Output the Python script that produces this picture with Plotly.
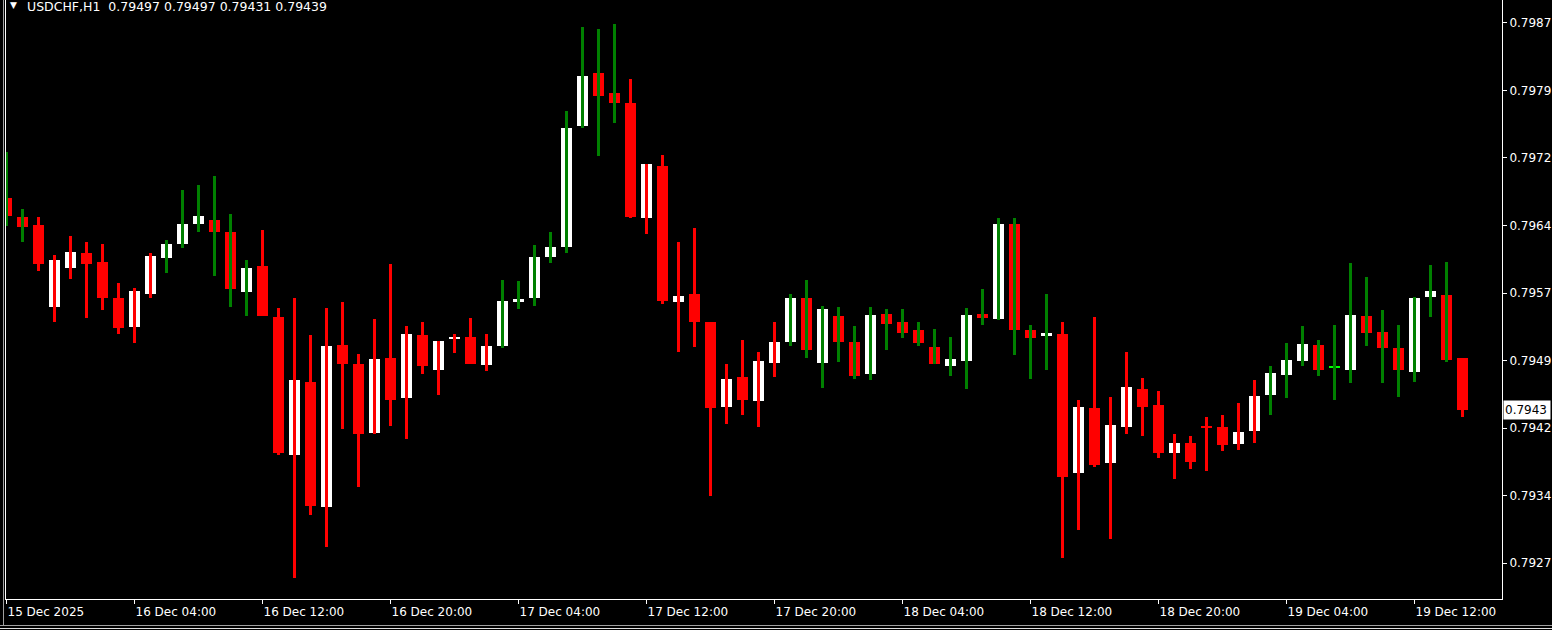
import plotly.graph_objects as go

# ---------------- data (USDCHF H1, 92 bars) ----------------
opens = [0.79675, 0.79653, 0.79644, 0.79553, 0.79597, 0.79613, 0.79604, 0.79564, 0.79531, 0.79568,
         0.79608, 0.79623, 0.79646, 0.79650, 0.79637, 0.79570, 0.79599, 0.79542, 0.79389, 0.79470,
         0.79331, 0.79511, 0.79490, 0.79414, 0.79497, 0.79452, 0.79522, 0.79484, 0.79519, 0.79520,
         0.79489, 0.79510, 0.79560, 0.79563, 0.79609, 0.79620, 0.79755, 0.79813, 0.79791, 0.79780,
         0.79652, 0.79710, 0.79559, 0.79568, 0.79537, 0.79442, 0.79476, 0.79449, 0.79491, 0.79515,
         0.79564, 0.79491, 0.79544, 0.79515, 0.79479, 0.79546, 0.79537, 0.79528, 0.79509, 0.79488,
         0.79494, 0.79546, 0.79540, 0.79646, 0.79528, 0.79521, 0.79524, 0.79369, 0.79441, 0.79380,
         0.79420, 0.79462, 0.79445, 0.79391, 0.79403, 0.79421, 0.79420, 0.79401, 0.79416, 0.79456,
         0.79478, 0.79494, 0.79511, 0.79486, 0.79483, 0.79544, 0.79526, 0.79508, 0.79481, 0.79565,
         0.79567, 0.79497]
highs = [0.79726, 0.79662, 0.79653, 0.79611, 0.79632, 0.79626, 0.79624, 0.79580, 0.79575, 0.79613,
         0.79628, 0.79683, 0.79689, 0.79699, 0.79657, 0.79606, 0.79639, 0.79552, 0.79564, 0.79522,
         0.79552, 0.79559, 0.79501, 0.79540, 0.79601, 0.79532, 0.79537, 0.79516, 0.79524, 0.79541,
         0.79523, 0.79583, 0.79582, 0.79622, 0.79637, 0.79771, 0.79864, 0.79862, 0.79868, 0.79807,
         0.79712, 0.79722, 0.79626, 0.79641, 0.79537, 0.79490, 0.79517, 0.79503, 0.79537, 0.79568,
         0.79583, 0.79555, 0.79554, 0.79532, 0.79554, 0.79551, 0.79551, 0.79537, 0.79529, 0.79520,
         0.79552, 0.79573, 0.79652, 0.79652, 0.79534, 0.79568, 0.79537, 0.79450, 0.79542, 0.79453,
         0.79504, 0.79475, 0.79460, 0.79412, 0.79410, 0.79431, 0.79433, 0.79447, 0.79472, 0.79488,
         0.79513, 0.79532, 0.79517, 0.79533, 0.79602, 0.79587, 0.79550, 0.79534, 0.79565, 0.79600,
         0.79604, 0.79497]
lows = [0.79643, 0.79626, 0.79594, 0.79537, 0.79585, 0.79541, 0.79550, 0.79523, 0.79513, 0.79563,
        0.79591, 0.79619, 0.79637, 0.79588, 0.79554, 0.79543, 0.79543, 0.79389, 0.79252, 0.79323,
        0.79287, 0.79418, 0.79354, 0.79412, 0.79421, 0.79407, 0.79479, 0.79456, 0.79502, 0.79490,
        0.79482, 0.79508, 0.79551, 0.79555, 0.79602, 0.79613, 0.79752, 0.79721, 0.79758, 0.79652,
        0.79635, 0.79557, 0.79503, 0.79509, 0.79344, 0.79424, 0.79433, 0.79420, 0.79476, 0.79510,
        0.79497, 0.79464, 0.79492, 0.79473, 0.79472, 0.79506, 0.79519, 0.79510, 0.79490, 0.79477,
        0.79462, 0.79533, 0.79539, 0.79500, 0.79473, 0.79483, 0.79275, 0.79306, 0.79376, 0.79296,
        0.79412, 0.79410, 0.79386, 0.79362, 0.79374, 0.79371, 0.79394, 0.79395, 0.79402, 0.79433,
        0.79452, 0.79488, 0.79477, 0.79450, 0.79469, 0.79510, 0.79469, 0.79454, 0.79470, 0.79542,
        0.79492, 0.79431]
closes = [0.79654, 0.79642, 0.79601, 0.79606, 0.79615, 0.79601, 0.79563, 0.79530, 0.79571, 0.79610,
          0.79623, 0.79646, 0.79655, 0.79637, 0.79573, 0.79597, 0.79543, 0.79391, 0.79472, 0.79332,
          0.79510, 0.79490, 0.79413, 0.79496, 0.79450, 0.79523, 0.79488, 0.79516, 0.79520, 0.79490,
          0.79510, 0.79560, 0.79562, 0.79609, 0.79620, 0.79752, 0.79810, 0.79788, 0.79780, 0.79653,
          0.79712, 0.79560, 0.79566, 0.79537, 0.79441, 0.79474, 0.79450, 0.79493, 0.79515, 0.79564,
          0.79506, 0.79551, 0.79515, 0.79477, 0.79545, 0.79535, 0.79525, 0.79513, 0.79490, 0.79496,
          0.79545, 0.79541, 0.79646, 0.79528, 0.79519, 0.79525, 0.79365, 0.79442, 0.79378, 0.79422,
          0.79465, 0.79442, 0.79391, 0.79402, 0.79381, 0.79420, 0.79400, 0.79415, 0.79455, 0.79480,
          0.79495, 0.79512, 0.79483, 0.79486, 0.79545, 0.79525, 0.79508, 0.79483, 0.79564, 0.79571,
          0.79495, 0.79439]
# wick colour flag per bar (G = green, R = red)
wick_flags = list("GGRRRRRRRRGGGGGG" "RRRRRRRRRRRRRRR" "GGGGGGGG" "RRRRRRRRRR"
                  "GGGGGGGGGGGGGGGGG" "RRRRRRRRRRRRR" "GGGGGGGGGGGG" "R")

x_tick_pos = [0, 8, 16, 24, 32, 40, 48, 56, 64, 72, 80, 88]
x_tick_labels = ["15 Dec 2025", "16 Dec 04:00", "16 Dec 12:00", "16 Dec 20:00", "17 Dec 04:00",
                 "17 Dec 12:00", "17 Dec 20:00", "18 Dec 04:00", "18 Dec 12:00", "18 Dec 20:00",
                 "19 Dec 04:00", "19 Dec 12:00"]
y_tick_vals = [0.79869, 0.79794, 0.79719, 0.79644, 0.79569, 0.79494, 0.79419, 0.79344, 0.79269]
y_tick_labels = ["0.7987", "0.7979", "0.7972", "0.7964", "0.7957", "0.7949", "0.7942", "0.7934", "0.7927"]
symbol = "USDCHF,H1"

# ---------------- styling ----------------
W, H = 1552, 630
ML, MR, MT, MB = 6, 50, 0, 31
PW, PH = W - ML - MR, H - MT - MB
FONT = "DejaVu Sans"
GREEN, RED, WHITE, LIME = "#008000", "#ff0000", "#ffffff", "#00ff00"

idx = list(range(len(opens)))
body_base = [min(o, c) for o, c in zip(opens, closes)]
body_h = [max(abs(c - o), 0.000012) for o, c in zip(opens, closes)]
body_col = [WHITE if c > o else (RED if c < o else LIME) for o, c in zip(opens, closes)]
wick_col = [GREEN if f == "G" else RED for f in wick_flags]

fig = go.Figure()
fig.add_trace(go.Bar(x=idx, base=body_base, y=body_h, width=11 / 16,
                     marker=dict(color=body_col, line=dict(width=0)), hoverinfo="skip"))
fig.add_trace(go.Bar(x=idx, base=lows, y=[h - l for h, l in zip(highs, lows)], width=3 / 16,
                     marker=dict(color=wick_col, line=dict(width=0)), hoverinfo="skip"))

fig.update_layout(
    width=W, height=H, margin=dict(l=ML, r=MR, t=MT, b=MB, pad=0, autoexpand=False),
    paper_bgcolor="black", plot_bgcolor="black", showlegend=False,
    barmode="overlay", bargap=0,
    font=dict(family=FONT, size=12, color=WHITE),
    xaxis=dict(range=[-0.5 / 16, (PW - 0.5) / 16], tickvals=x_tick_pos, ticktext=x_tick_labels,
               ticks="outside", ticklen=4, tickcolor=WHITE, tickwidth=1,
               ticklabelposition="outside right", ticklabelstandoff=2,
               showline=True, linecolor=WHITE, linewidth=1, showgrid=False, zeroline=False,
               tickfont=dict(family=FONT, size=12, color=WHITE), fixedrange=True),
    yaxis=dict(side="right", range=[0.798944 - PH / 90050, 0.798944],
               tickvals=y_tick_vals, ticktext=y_tick_labels,
               ticks="outside", ticklen=4, tickcolor=WHITE, tickwidth=1,
               showline=True, mirror=True, linecolor=WHITE, linewidth=1,
               showgrid=False, zeroline=False,
               tickfont=dict(family=FONT, size=12, color=WHITE), fixedrange=True),
)

# title (symbol + last bar OHLC)
title = "{}\u00a0\u00a0{:.5f} {:.5f} {:.5f} {:.5f}".format(symbol, opens[-1], highs[-1], lows[-1], closes[-1])
fig.add_annotation(xref="paper", yref="paper", x=(9 - ML) / PW, y=1, xanchor="left", yanchor="top",
                   text="\u25bc", showarrow=False, font=dict(family=FONT, size=9, color=WHITE),
                   yshift=1, borderpad=0)
fig.add_annotation(xref="paper", yref="paper", x=(26 - ML) / PW, y=1, xanchor="left", yanchor="top",
                   text=title, showarrow=False, font=dict(family=FONT, size=12.5, color=WHITE),
                   yshift=2, borderpad=0)

# current price box
fig.add_annotation(xref="paper", yref="y", x=1, y=closes[-1], xanchor="left", yanchor="middle",
                   xshift=1, text="{:.5f}".format(closes[-1])[:-1], showarrow=False, align="left",
                   bgcolor=WHITE, width=44, height=16, borderpad=1,
                   font=dict(family=FONT, size=12, color="black"))

# window frame decorations
def px_x(p):
    return (p - ML) / PW

def px_y(p):
    return 1 - (p - MT) / PH

fig.add_shape(type="line", xref="paper", yref="paper", x0=px_x(3.5), x1=px_x(3.5),
              y0=px_y(0), y1=px_y(626), line=dict(color="#a0a0a0", width=1))
fig.add_shape(type="line", xref="paper", yref="paper", x0=px_x(0), x1=px_x(W),
              y0=px_y(625.5), y1=px_y(625.5), line=dict(color="#a0a0a0", width=1))
fig.add_shape(type="line", xref="paper", yref="paper", x0=px_x(0), x1=px_x(W),
              y0=px_y(628.5), y1=px_y(628.5), line=dict(color="#e0e0e0", width=1))

fig.write_html("out.html", config={"displayModeBar": False},
               post_script="document.body.style.margin='0';document.body.style.overflow='hidden';")
